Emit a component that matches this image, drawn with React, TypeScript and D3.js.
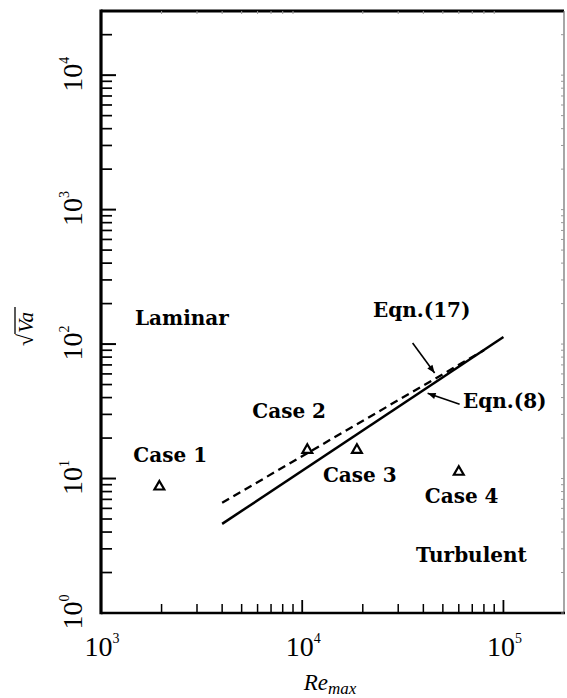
import React from 'react';
import * as d3 from 'd3';

// ---------- data ----------
const caseNames = ['Case 1', 'Case 2', 'Case 3', 'Case 4'];
const caseRe = [1950, 10600, 18700, 60000];
const caseSqrtVa = [8.7, 16.3, 16.3, 11.2];

const eqn8Re = [4000, 100000];
const eqn8SqrtVa = [4.6, 113];

const eqn17Re = [4000, 80000];
const eqn17SqrtVa = [6.6, 90];

const xTickExps = [3, 4, 5];
const yTickExps = [0, 1, 2, 3, 4];
const minorMultipliers = [2, 3, 4, 5, 6, 7, 8, 9];

const regionLabels = ['Laminar', 'Turbulent'];
const eqnLabels = ['Eqn.(17)', 'Eqn.(8)'];

// ---------- layout ----------
const W = 567;
const H = 698;
const X0 = 101;
const X1 = 564;
const Y0 = 613;
const Y1 = 11;

const caseLabelOffsets = [
  [-26, -25],
  [-55, -32],
  [-34, 32],
  [-34, 31],
];

const LABEL_FONT = '"DejaVu Serif", serif';
const NUM_FONT = '"Liberation Serif", "Times New Roman", serif';

function arrowHead(tx: number, ty: number, fx: number, fy: number, len = 8, half = 3.2) {
  const a = Math.atan2(ty - fy, tx - fx);
  const bx = tx - len * Math.cos(a);
  const by = ty - len * Math.sin(a);
  const px = -Math.sin(a) * half;
  const py = Math.cos(a) * half;
  return `M${tx},${ty}L${bx + px},${by + py}L${bx - px},${by - py}Z`;
}

export default function App() {
  const x = d3.scaleLog().domain([1e3, 2e5]).range([X0, X1]);
  const y = d3.scaleLog().domain([1, 3e4]).range([Y0, Y1]);

  const xMinor: number[] = [];
  xTickExps.forEach((e) =>
    minorMultipliers.forEach((m) => {
      const v = m * Math.pow(10, e);
      if (v < 2e5) xMinor.push(v);
    })
  );
  const yMinor: number[] = [];
  yTickExps.forEach((e) =>
    minorMultipliers.forEach((m) => {
      const v = m * Math.pow(10, e);
      if (v < 3e4) yMinor.push(v);
    })
  );

  const line = d3
    .line<[number, number]>()
    .x((d) => x(d[0]))
    .y((d) => y(d[1]));

  const eqn8Pts = eqn8Re.map((r, i) => [r, eqn8SqrtVa[i]] as [number, number]);
  const eqn17Pts = eqn17Re.map((r, i) => [r, eqn17SqrtVa[i]] as [number, number]);

  const tri = d3.symbol().type(d3.symbolTriangle).size(42)();

  const lerpLog = (re: number, pts: [number, number][]) => {
    const t = (Math.log10(re) - Math.log10(pts[0][0])) / (Math.log10(pts[1][0]) - Math.log10(pts[0][0]));
    return Math.pow(10, Math.log10(pts[0][1]) + t * (Math.log10(pts[1][1]) - Math.log10(pts[0][1])));
  };
  const a17re = 45500;
  const a17tip = [x(a17re), y(lerpLog(a17re, eqn17Pts)) - 6];
  const a17tail = [a17tip[0] - 22, a17tip[1] - 30];
  const a8re = 42000;
  const a8tip = [x(a8re), y(lerpLog(a8re, eqn8Pts)) + 6];
  const a8tail = [a8tip[0] + 32, a8tip[1] + 11];

  return (
    <svg
      width={W}
      height={H}
      style={{ position: 'absolute', left: 0, top: 0, display: 'block', background: '#fff' }}
    >
      {/* spines */}
      <line x1={X0} y1={Y1} x2={X1} y2={Y1} stroke="#000" strokeWidth={3} />
      <line x1={X1} y1={Y1} x2={X1} y2={Y0} stroke="#777" strokeWidth={1.3} />
      <line x1={X0} y1={Y0} x2={X1 + 1} y2={Y0} stroke="#000" strokeWidth={2.6} />
      <line x1={X0} y1={Y1 - 1.5} x2={X0} y2={Y0 + 1.3} stroke="#000" strokeWidth={3.2} />

      {/* y ticks (left, inward) */}
      {yTickExps.map((e) => (
        <line key={'ym' + e} x1={X0} x2={X0 + 15} y1={y(Math.pow(10, e))} y2={y(Math.pow(10, e))} stroke="#000" strokeWidth={2} />
      ))}
      {yMinor.map((v) => (
        <line key={'yn' + v} x1={X0} x2={X0 + 11} y1={y(v)} y2={y(v)} stroke="#000" strokeWidth={1.7} />
      ))}
      {yMinor.concat(yTickExps.map((e) => Math.pow(10, e))).map((v) => (
        <line key={'yr' + v} x1={X1 - 3} x2={X1} y1={y(v)} y2={y(v)} stroke="#999" strokeWidth={1} />
      ))}

      {/* x ticks (bottom, inward) */}
      {xTickExps.map((e) => (
        <line key={'xm' + e} x1={x(Math.pow(10, e))} x2={x(Math.pow(10, e))} y1={Y0} y2={Y0 - 13} stroke="#000" strokeWidth={1.8} />
      ))}
      {xMinor.map((v) => (
        <line key={'xn' + v} x1={x(v)} x2={x(v)} y1={Y0} y2={Y0 - 9} stroke="#000" strokeWidth={1.5} />
      ))}
      {xMinor.map((v) => (
        <line key={'xt' + v} x1={x(v)} x2={x(v)} y1={Y1} y2={Y1 + 3} stroke="#999" strokeWidth={1} />
      ))}

      {/* x tick labels */}
      {xTickExps.map((e) => (
        <text key={'xl' + e} x={x(Math.pow(10, e)) + 1} y={656} textAnchor="middle" fontFamily={NUM_FONT} fontSize={28} fill="#000">
          10
          <tspan dy={-13} fontSize={14}>{e}</tspan>
        </text>
      ))}

      {/* y tick labels (rotated) */}
      {yTickExps.map((e) => (
        <text
          key={'yl' + e}
          transform={`translate(82,${y(Math.pow(10, e)) - 1}) rotate(-90)`}
          textAnchor="middle"
          fontFamily={NUM_FONT}
          fontSize={28}
          fill="#000"
        >
          10
          <tspan dy={-13} fontSize={14}>{e}</tspan>
        </text>
      ))}

      {/* axis titles */}
      <text x={330} y={690} textAnchor="middle" fontFamily={NUM_FONT} fontStyle="italic" fontSize={23} fill="#000">
        Re
        <tspan dy={4} fontSize={17}>max</tspan>
      </text>
      <g transform="translate(33,324) rotate(-90)">
        <text x={-22} y={0} fontFamily={NUM_FONT} fontSize={22} fill="#000">
          √
        </text>
        <text x={-9} y={0} fontFamily={NUM_FONT} fontStyle="italic" fontSize={21} fill="#000">
          Va
        </text>
        <line x1={-10} x2={17} y1={-18} y2={-18} stroke="#000" strokeWidth={1.3} />
      </g>

      {/* model lines */}
      <path d={line(eqn8Pts) || ''} fill="none" stroke="#000" strokeWidth={2.5} />
      <path d={line(eqn17Pts) || ''} fill="none" stroke="#000" strokeWidth={2.3} strokeDasharray="8,5" />

      {/* data points */}
      {caseRe.map((r, i) => (
        <path key={'p' + i} d={tri || ''} transform={`translate(${x(r)},${y(caseSqrtVa[i])})`} fill="#fff" stroke="#000" strokeWidth={2.2} />
      ))}

      {/* case labels */}
      {caseNames.map((n, i) => (
        <text
          key={'c' + i}
          x={x(caseRe[i]) + caseLabelOffsets[i][0]}
          y={y(caseSqrtVa[i]) + caseLabelOffsets[i][1]}
          fontFamily={LABEL_FONT}
          fontWeight="bold"
          fontSize={20}
          fill="#000"
        >
          {n}
        </text>
      ))}

      {/* region labels */}
      <text x={135} y={325} fontFamily={LABEL_FONT} fontWeight="bold" fontSize={20} fill="#000">
        {regionLabels[0]}
      </text>
      <text x={416} y={562} fontFamily={LABEL_FONT} fontWeight="bold" fontSize={20} fill="#000">
        {regionLabels[1]}
      </text>

      {/* equation labels + arrows */}
      <text x={373} y={317} fontFamily={LABEL_FONT} fontWeight="bold" fontSize={20} fill="#000">
        {eqnLabels[0]}
      </text>
      <line x1={a17tail[0]} y1={a17tail[1]} x2={a17tip[0]} y2={a17tip[1]} stroke="#000" strokeWidth={1.6} />
      <path d={arrowHead(a17tip[0], a17tip[1], a17tail[0], a17tail[1])} fill="#000" />

      <text x={463} y={408} fontFamily={LABEL_FONT} fontWeight="bold" fontSize={20} fill="#000">
        {eqnLabels[1]}
      </text>
      <line x1={a8tail[0]} y1={a8tail[1]} x2={a8tip[0]} y2={a8tip[1]} stroke="#000" strokeWidth={1.6} />
      <path d={arrowHead(a8tip[0], a8tip[1], a8tail[0], a8tail[1])} fill="#000" />
    </svg>
  );
}
